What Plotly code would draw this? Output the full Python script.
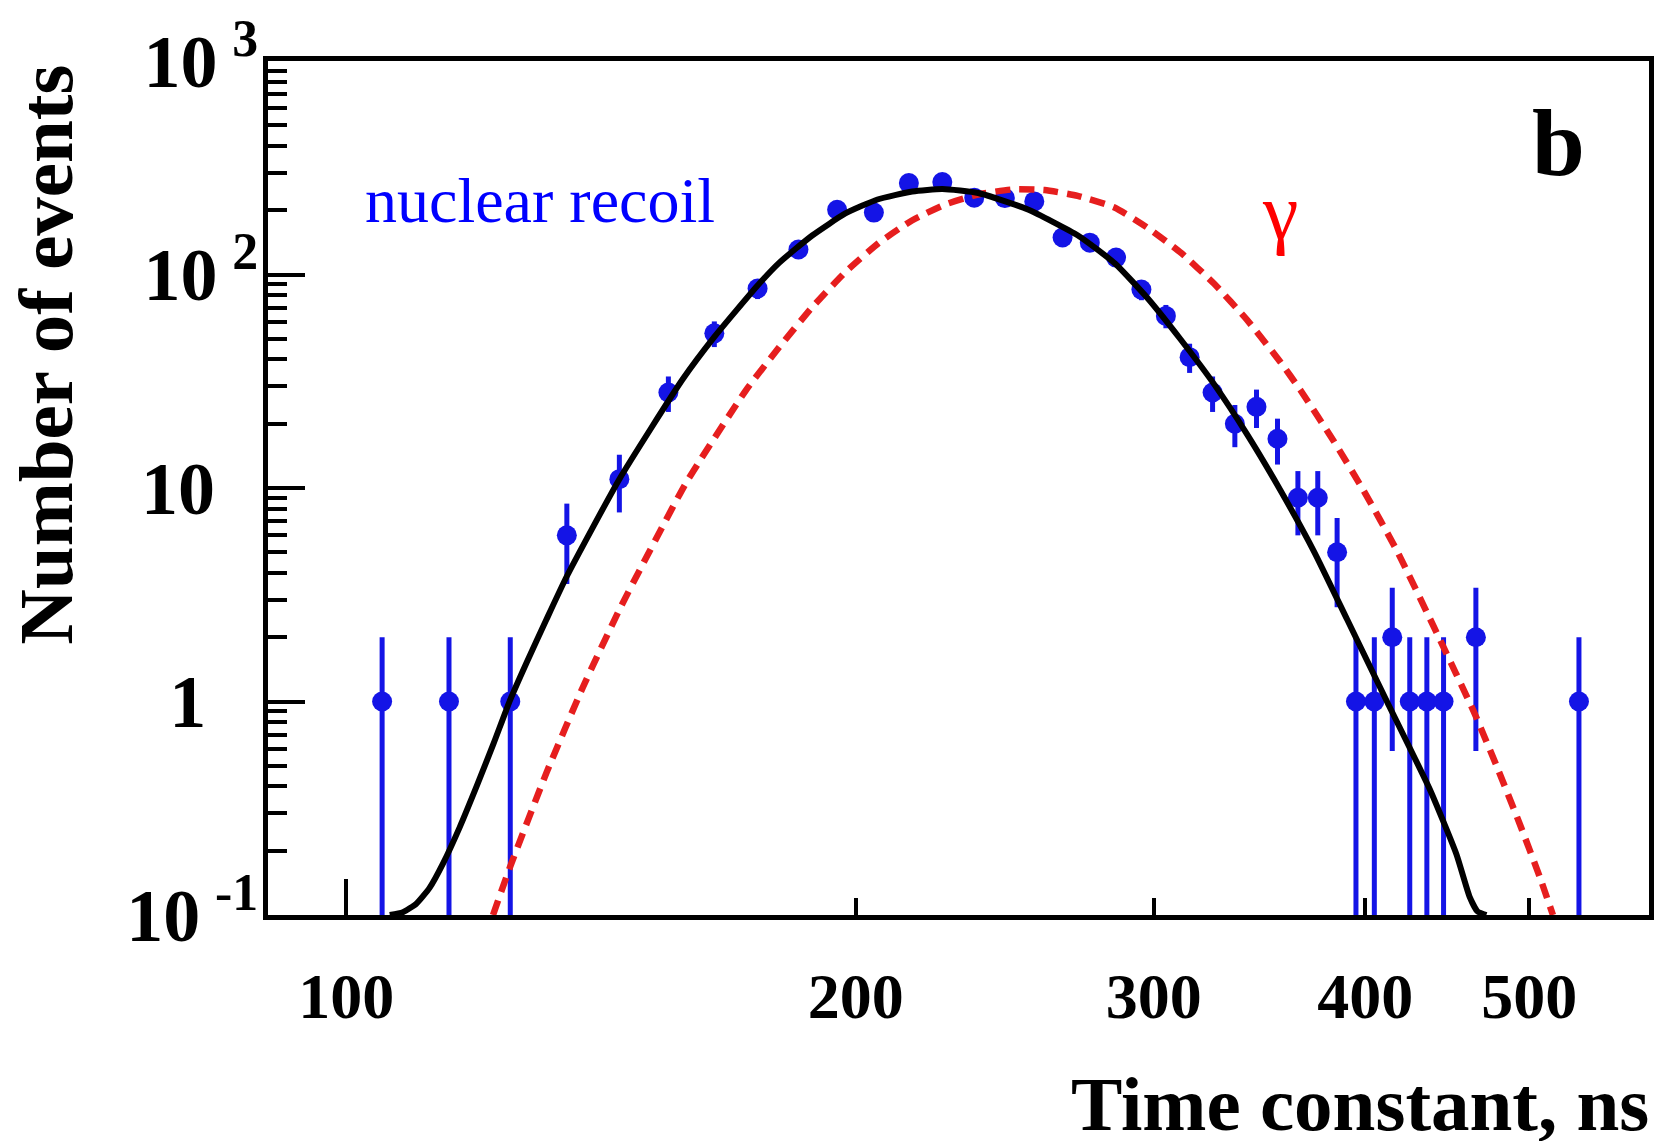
import numpy as np
import plotly.graph_objects as go

# ---------------- data ----------------
# measured time-constant histogram (nuclear recoil), counts per bin
tau = [105, 115, 125, 135, 145, 155, 165, 175, 185, 195, 205, 215, 225, 235, 245,
       255, 265, 275, 285, 295, 305, 315, 325, 335, 345, 355, 365, 375, 385, 395,
       405, 415, 425, 435, 445, 465, 535]
counts = [1, 1, 1, 6, 11, 28, 53, 86, 131, 201, 195, 268, 271, 229, 228,
          220, 149, 141, 120, 85, 64, 41, 28, 20, 24, 17, 9, 9, 5, 1,
          1, 2, 1, 1, 1, 2, 1]

# fit to nuclear-recoil data (black solid)
fit_x = [106.1, 108.0, 110.0, 112.0, 114.1, 116.7, 119.4, 122.2, 125.0, 127.8,
         131.3, 135.0, 145.0, 158.0, 165.0, 175.0, 180.2, 188.5, 197.2, 206.0,
         216.0, 225.0, 236.3, 252.8, 270.6, 284.6, 297.6, 311.2, 325.8, 340.7,
         356.2, 373.1, 390.3, 412.0, 436.8, 452.9, 461.0, 466.0, 471.7]
fit_y = [0.1, 0.103, 0.113, 0.134, 0.175, 0.258, 0.40, 0.636, 1.02, 1.52,
         2.42, 3.86, 11.0, 32.2, 51.0, 88.8, 113.4, 152.3, 193.1, 224.5,
         244.8, 251.5, 240.8, 201.6, 152.3, 112.6, 77.2, 49.6, 30.5, 17.8,
         9.84, 5.04, 2.42, 1.0, 0.387, 0.192, 0.122, 0.104, 0.1]

# gamma distribution (red dashed)
gam_x = [122.1, 125.0, 131.3, 138.0, 145.0, 149.1, 158.7, 172.2, 180.2, 188.5,
         197.2, 206.3, 215.9, 225.9, 236.3, 247.3, 258.6, 270.5, 284.4, 297.5,
         311.3, 325.6, 340.7, 356.5, 366.3, 383.2, 399.2, 417.6, 442.0, 463.4,
         478.2, 493.6, 507.2, 516.4]
gam_y = [0.1, 0.169, 0.463, 1.17, 2.69, 4.14, 10.5, 28.6, 45.6, 70.3,
         102.6, 140.3, 179.1, 212.8, 236.9, 250.1, 248.5, 233.5, 206.0, 165.5,
         126.4, 90.7, 61.1, 38.8, 28.7, 16.6, 9.71, 5.09, 2.01, 0.906,
         0.501, 0.267, 0.151, 0.1]

x_ticks = [100, 200, 300, 400, 500]
x_ticktext = ["100", "200", "300", "400", "500"]
y_ticks = [0.1, 1, 10, 100, 1000]
y_ticktext = ["10\u2009<sup>-1</sup>", "1\u2007\u2009", "10\u2007\u200a",
              "10\u2009<sup>2</sup>", "10\u2009<sup>3</sup>"]

# ---------------- layout geometry (pixels) ----------------
W, H = 1659, 1141
L, R, T, B = 268, 1654, 61, 915
PW, PH = R - L, B - T


def px(x):
    return (x - L) / PW


def py(y):
    return (B - y) / PH


FONT = "Liberation Serif"
BLUE = "#1414e6"
RED = "#e61e1e"

xrange = [np.log10(89.9), np.log10(588.5)]
yrange = [-1, 3]

fig = go.Figure()

errs = np.sqrt(np.array(counts, dtype=float))
fig.add_trace(go.Scatter(
    x=tau, y=counts, mode="markers",
    marker=dict(color=BLUE, size=20, line=dict(width=0)),
    error_y=dict(type="data", array=errs, visible=True, color=BLUE,
                 thickness=5, width=0),
    showlegend=False, xaxis="x", yaxis="y"))

fig.add_trace(go.Scatter(
    x=gam_x, y=gam_y, mode="lines",
    line=dict(color=RED, width=6.5, dash="15px,9px", shape="spline", smoothing=0.5),
    showlegend=False, xaxis="x", yaxis="y"))

fig.add_trace(go.Scatter(
    x=fit_x, y=fit_y, mode="lines",
    line=dict(color="black", width=6, shape="spline", smoothing=0.5),
    showlegend=False, xaxis="x2", yaxis="y"))

xtickfont = dict(family=FONT, size=64, color="black", weight="bold")
ytickfont = dict(family=FONT, size=74, color="black", weight="bold")

fig.update_layout(
    width=W, height=H,
    margin=dict(l=L, r=W - R, t=T, b=H - B, pad=0),
    paper_bgcolor="white", plot_bgcolor="white",
    xaxis=dict(type="log", range=xrange, showgrid=False, zeroline=False,
               showline=True, linewidth=5, linecolor="black", mirror=True,
               ticks="inside", ticklen=17, tickwidth=4, tickcolor="black",
               tickvals=x_ticks, ticktext=x_ticktext, tickfont=xtickfont,
               ticklabelstandoff=21),
    xaxis2=dict(type="log", range=xrange, overlaying="x", anchor="y", side="bottom",
                showgrid=False, zeroline=False, showline=False,
                ticks="inside", ticklen=36, tickwidth=4, tickcolor="black",
                tickvals=[100], showticklabels=False),
    yaxis=dict(type="log", range=yrange, showgrid=False, zeroline=False,
               showline=True, linewidth=5, linecolor="black", mirror=True,
               ticks="inside", ticklen=37, tickwidth=4, tickcolor="black",
               tickvals=y_ticks, ticktext=y_ticktext, tickfont=ytickfont,
               ticklabelstandoff=-10,
               minor=dict(ticks="inside", ticklen=19, tickwidth=4,
                          tickcolor="black", dtick="D1", showgrid=False)),
    showlegend=False,
)

annotations = [
    dict(text="Number of events", x=px(45), y=py(355), textangle=-90,
         font=dict(family=FONT, size=77, color="black", weight="bold")),
    dict(text="Time constant, ns", x=px(1656), y=py(1104), xanchor="right",
         font=dict(family=FONT, size=77, color="black", weight="bold")),
    dict(text="nuclear recoil", x=px(541), y=py(201),
         font=dict(family=FONT, size=64, color="#0000ff")),
    dict(text="\u03b3", x=px(1284), y=py(212),
         font=dict(family=FONT, size=80, color="#ff0000")),
    dict(text="b", x=px(1563), y=py(143),
         font=dict(family=FONT, size=95, color="black", weight="bold")),
]
for a in annotations:
    a.update(xref="paper", yref="paper", showarrow=False)
    a.setdefault("xanchor", "center")
    a.setdefault("yanchor", "middle")
fig.update_layout(annotations=annotations)

fig.write_html("out.html")
